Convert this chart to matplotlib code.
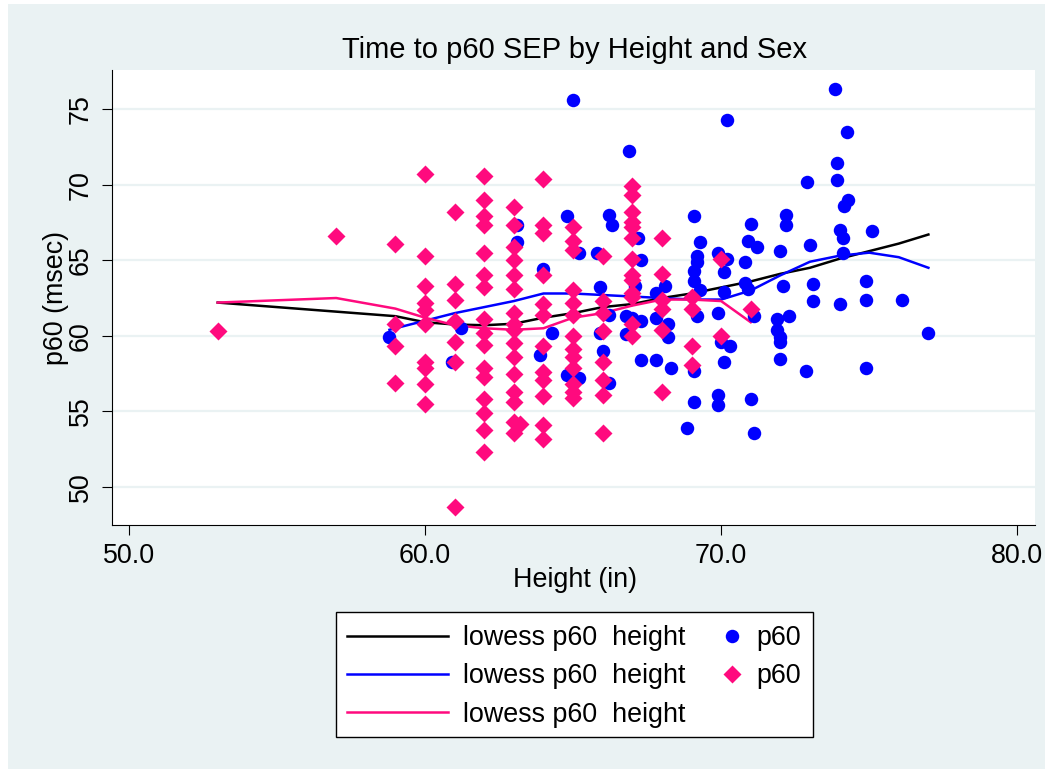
# Time to p60 SEP by height and sex, scatter + lowess smoothers (Stata-style look)
import matplotlib
matplotlib.use('Agg')
import matplotlib.pyplot as plt
from matplotlib.patches import Rectangle
from matplotlib.lines import Line2D

# male points (blue circles)
male_height = [58.8, 61.2, 60.9, 63.1, 63.1, 64.0, 64.3, 63.9,
               65.0, 64.8, 65.2, 64.8, 65.2,
               66.2, 66.3, 65.8, 65.9, 66.2, 65.9, 66.0, 66.2,
               66.9, 67.2, 67.3, 67.1, 66.8, 67.0, 67.3, 66.8, 67.3,
               68.1, 67.8, 67.8, 68.2, 68.2, 67.8, 68.3,
               69.1, 69.3, 69.2, 69.2, 69.1, 69.1, 69.3, 69.2, 69.1, 69.1, 68.85,
               70.2, 69.9, 70.2, 70.1, 70.1, 69.9, 70.0, 70.3, 70.1, 69.9, 69.9,
               71.0, 70.9, 71.2, 70.8, 70.8, 70.9, 71.1, 71.0, 71.1,
               72.2, 72.2, 72.0, 72.1, 72.3, 71.9, 71.9, 72.0, 72.0, 72.0,
               72.9, 73.0, 73.1, 73.1, 72.85,
               73.85, 74.25, 73.9, 73.9, 74.3, 74.15, 74.0, 74.1, 74.1, 74.0,
               75.1, 74.9, 74.9, 74.9, 76.1, 77.0]
male_p60 = [59.9, 60.5, 58.3, 67.3, 66.2, 64.4, 60.2, 58.7,
            75.6, 67.9, 65.5, 57.4, 57.2,
            68.0, 67.3, 65.5, 63.2, 61.4, 60.2, 59.0, 56.9,
            72.2, 66.5, 65.0, 63.3, 61.3, 61.2, 61.0, 60.1, 58.4,
            63.3, 62.8, 61.2, 60.8, 59.9, 58.4, 57.9,
            67.9, 66.2, 65.3, 64.9, 64.3, 63.6, 63.0, 61.3, 57.7, 55.6, 53.9,
            74.3, 65.5, 65.1, 64.2, 62.9, 61.5, 59.6, 59.3, 58.3, 56.1, 55.4,
            67.4, 66.3, 65.9, 64.9, 63.5, 63.1, 61.3, 55.8, 53.6,
            68.0, 67.3, 65.6, 63.3, 61.3, 61.1, 60.4, 59.9, 59.6, 58.5,
            70.2, 66.0, 63.4, 62.3, 57.7,
            76.3, 73.5, 71.4, 70.3, 69.0, 68.6, 67.0, 66.5, 65.5, 62.1,
            66.9, 63.6, 62.4, 57.9, 62.4, 60.2]

# female points (pink diamonds)
female_height = [53, 57,
                 59, 59, 59, 59,
                 60, 60, 60, 60, 60, 60, 60, 60, 60, 60,
                 61, 61, 61, 61, 61, 61, 61,
                 62, 62, 62, 62, 62, 62, 62, 62, 62, 62, 62, 62, 62, 62, 62, 62,
                 63, 63, 63, 63, 63, 63, 63, 63, 63, 63, 63, 63, 63, 63, 63, 63.2, 63,
                 64, 64, 64, 64, 64, 64, 64, 64, 64, 64, 64, 64,
                 65, 65, 65, 65, 65, 65, 65, 65, 65, 65, 65, 65, 65,
                 66, 66, 66, 66, 66, 66, 66, 66,
                 67, 67, 67, 67, 67, 67, 67, 67, 67, 67, 67, 67, 67,
                 68, 68, 68, 68, 68, 68,
                 69, 69, 69, 69,
                 70, 70, 71]
female_p60 = [60.3, 66.6,
              66.1, 60.8, 59.3, 56.9,
              70.7, 65.3, 63.3, 62.2, 61.7, 60.8, 58.3, 57.9, 56.8, 55.5,
              68.2, 63.4, 62.4, 61.0, 59.6, 58.3, 48.7,
              70.6, 69.0, 67.9, 67.3, 65.5, 64.0, 63.2, 61.1, 60.2, 59.4, 57.9, 57.3, 55.8, 54.9, 53.8, 52.3,
              68.5, 67.3, 65.9, 65.0, 64.0, 63.1, 61.5, 60.8, 60.4, 59.5, 58.6, 57.5, 56.3, 55.6, 54.3, 54.2, 53.6,
              70.4, 67.3, 66.8, 64.0, 62.1, 61.4, 59.3, 57.6, 57.1, 56.0, 54.1, 53.2,
              67.2, 66.3, 65.7, 63.0, 62.2, 61.4, 60.0, 59.1, 58.6, 57.9, 56.8, 56.3, 55.9,
              65.3, 62.3, 61.5, 60.3, 58.3, 57.1, 56.1, 53.6,
              69.9, 69.3, 68.2, 67.5, 67.2, 66.5, 65.1, 64.0, 63.7, 62.8, 62.6, 60.8, 60.0,
              66.5, 64.1, 62.4, 61.8, 60.4, 56.3,
              62.6, 61.8, 59.3, 58.1,
              65.1, 60.0, 61.8]

# lowess curves
lowess_all_h = [53, 57, 59, 60, 61, 62, 63, 64, 65, 66, 67, 68, 69, 70, 71, 72, 73, 74, 75, 76, 77]
lowess_all_v = [62.2, 61.6, 61.3, 60.9, 60.75, 60.7, 60.8, 61.2, 61.5, 61.9, 62.1, 62.5,
                62.8, 63.2, 63.6, 64.1, 64.5, 65.1, 65.6, 66.1, 66.7]
lowess_male_h = [58.8, 61, 63, 64, 65, 66, 67, 68, 69, 70, 71, 72, 73, 74, 75, 76, 77]
lowess_male_v = [60.4, 61.5, 62.3, 62.8, 62.8, 62.7, 62.6, 62.5, 62.4, 62.4, 63.0, 64.0,
                 64.9, 65.3, 65.5, 65.2, 64.5]
lowess_female_h = [53, 57, 59, 60, 61, 62, 63, 64, 65, 66, 67, 68, 69, 70, 71]
lowess_female_v = [62.2, 62.5, 61.8, 61.2, 60.7, 60.5, 60.4, 60.5, 61.2, 61.5, 62.0, 62.4,
                   62.4, 62.3, 60.9]

xticks = [50, 60, 70, 80]
yticks = [50, 55, 60, 65, 70, 75]

BLUE = '#0000ff'
PINK = '#ff0a7e'
BG = '#eaf2f3'
FS = 19.4

plt.rcParams['font.family'] = ['Liberation Sans', 'DejaVu Sans']

W, H = 1055, 769
fig = plt.figure(figsize=(W / 100, H / 100), dpi=100)
fig.patch.set_facecolor('white')
# light blue-grey graph region
fig.patches.append(Rectangle((8 / W, 0), 1037 / W, 765 / H, transform=fig.transFigure,
                             facecolor=BG, edgecolor='none', zorder=-10))

ax = fig.add_axes([112 / W, 1 - 525 / H, 923 / W, 455 / H])
ax.set_facecolor('white')

ax.plot(lowess_all_h, lowess_all_v, color='black', lw=1.8, zorder=2)
ax.plot(lowess_male_h, lowess_male_v, color=BLUE, lw=1.8, zorder=2)
ax.plot(lowess_female_h, lowess_female_v, color=PINK, lw=1.8, zorder=2)
ax.plot(male_height, male_p60, ls='none', marker='o', ms=9.7, color=BLUE, mec='none', zorder=3)
ax.plot(female_height, female_p60, ls='none', marker='D', ms=9.2, color=PINK, mec='none', zorder=4)

ax.set_xlim(49.43, 80.6)
ax.set_ylim(47.49, 77.58)
ax.set_xticks(xticks)
ax.set_xticklabels(['%.1f' % t for t in xticks])
ax.set_yticks(yticks)
ax.set_yticklabels([str(t) for t in yticks], rotation=90, va='center')
ax.yaxis.grid(True, color=BG, lw=1.6)
ax.set_axisbelow(True)
for s in ['top', 'right']:
    ax.spines[s].set_visible(False)
for s in ['left', 'bottom']:
    ax.spines[s].set_linewidth(0.8)
ax.tick_params(direction='out', length=7, width=0.8, labelsize=FS, pad=6)

fig.text(575 / W, 1 - 50 / H, 'Time to p60 SEP by Height and Sex', ha='center', va='center', fontsize=21)
fig.text(575 / W, 1 - 580 / H, 'Height (in)', ha='center', va='center', fontsize=FS)
fig.text(56 / W, 1 - 298 / H, 'p60 (msec)', ha='center', va='center', rotation=90, fontsize=FS)

# legend box
fig.patches.append(Rectangle((336 / W, 1 - 737 / H), 477 / W, 125 / H, transform=fig.transFigure,
                             facecolor='white', edgecolor='black', lw=1.0, zorder=1))
line_handles = [Line2D([], [], color='black', lw=1.8),
                Line2D([], [], color=BLUE, lw=1.8),
                Line2D([], [], color=PINK, lw=1.8)]
leg1 = fig.legend(line_handles, ['lowess p60  height'] * 3, loc='upper left',
                  bbox_to_anchor=(347 / W, 1 - 625 / H), bbox_transform=fig.transFigure,
                  frameon=False, fontsize=FS, handlelength=3.75, handletextpad=0.56,
                  borderpad=0, borderaxespad=0, labelspacing=0.46)
mark_handles = [Line2D([], [], ls='none', marker='o', ms=9.7, color=BLUE, mec='none'),
                Line2D([], [], ls='none', marker='D', ms=9.2, color=PINK, mec='none')]
leg2 = fig.legend(mark_handles, ['p60', 'p60'], loc='upper left',
                  bbox_to_anchor=(719 / W, 1 - 625 / H), bbox_transform=fig.transFigure,
                  frameon=False, fontsize=FS, handlelength=1.0, handletextpad=0.4,
                  borderpad=0, borderaxespad=0, labelspacing=0.46, numpoints=1)

fig.savefig('out.png', dpi=100)
